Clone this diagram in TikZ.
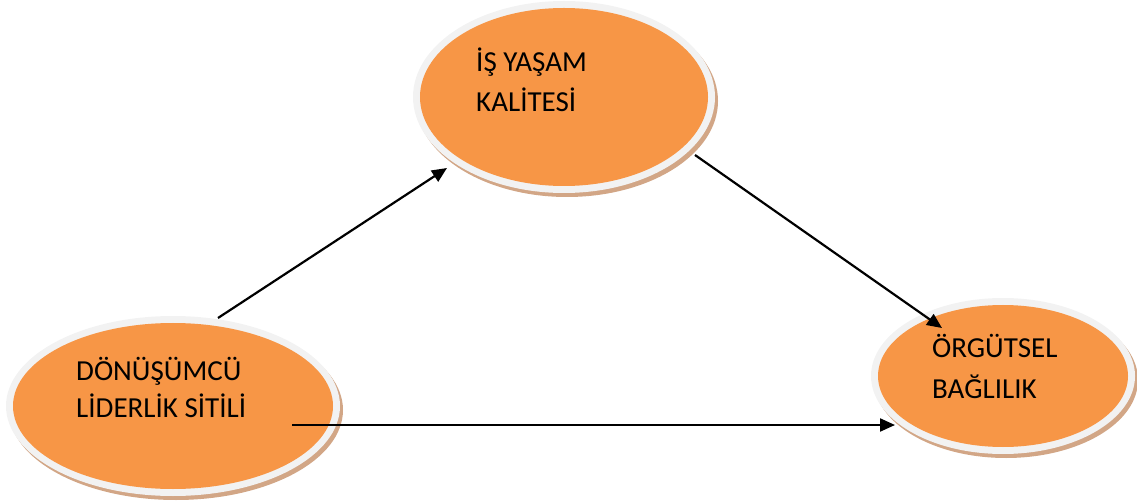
\documentclass[tikz,border=0pt]{standalone}
\usepackage{fontspec}
\setmainfont{Carlito}
\usetikzlibrary{arrows.meta,shapes.geometric}

\definecolor{bubble}{HTML}{F79646}
\definecolor{rim}{HTML}{F2F2F2}
\definecolor{bubbleshadow}{HTML}{D2A686}

\tikzset{
  bubble/.style={ellipse, fill=bubble, inner sep=0pt},
  label text/.style={anchor=base west, inner sep=0pt, font=\fontsize{29}{35}\selectfont},
  link/.style={line width=2.2pt, -{Triangle[length=15pt,width=13pt]}},
}

% draws the tan shadow and the light rim behind an ellipse of radii (#3,#4) at (#1,#2)
\newcommand{\bubbleback}[4]{%
  \fill[bubbleshadow] (#1+3,#2+4) ellipse [x radius=#3+7, y radius=#4+7];
  \fill[rim] (#1,#2) ellipse [x radius=#3+7, y radius=#4+7];
}

\begin{document}
\begin{tikzpicture}[x=1pt,y=-1pt]
  \useasboundingbox (0,0) rectangle (1137,502);

  % ellipse backgrounds
  \bubbleback{564}{97}{144}{89}
  \bubbleback{173}{406}{160}{83}
  \bubbleback{1003}{376}{125}{71}

  % ellipses
  \node[bubble, minimum width=288pt, minimum height=178pt] (quality) at (564,97) {};
  \node[bubble, minimum width=320pt, minimum height=166pt] (leader) at (173,406) {};
  \node[bubble, minimum width=250pt, minimum height=142pt] (commit) at (1003,376) {};

  % labels
  \node[label text] (q1) at (476,72) {İŞ YAŞAM};
  \node[label text] (q2) at (476,112) {KALİTESİ};
  \node[label text] (l1) at (76,380) {DÖNÜŞÜMCÜ};
  \node[label text] (l2) at (76,417) {LİDERLİK SİTİLİ};
  \node[label text] (c1) at (932,357) {ÖRGÜTSEL};
  \node[label text] (c2) at (932,398) {BAĞLILIK};

  % connector end points
  \coordinate (a1s) at (218,318);
  \coordinate (a1e) at (447,168);
  \coordinate (a2s) at (695,155);
  \coordinate (a2e) at (942,328);
  \coordinate (a3s) at (292,425);
  \coordinate (a3e) at (895,425);

  % connectors
  \draw[link] (a1s) -- (a1e);
  \draw[link] (a2s) -- (a2e);
  \draw[link] (a3s) -- (a3e);
\end{tikzpicture}
\end{document}
